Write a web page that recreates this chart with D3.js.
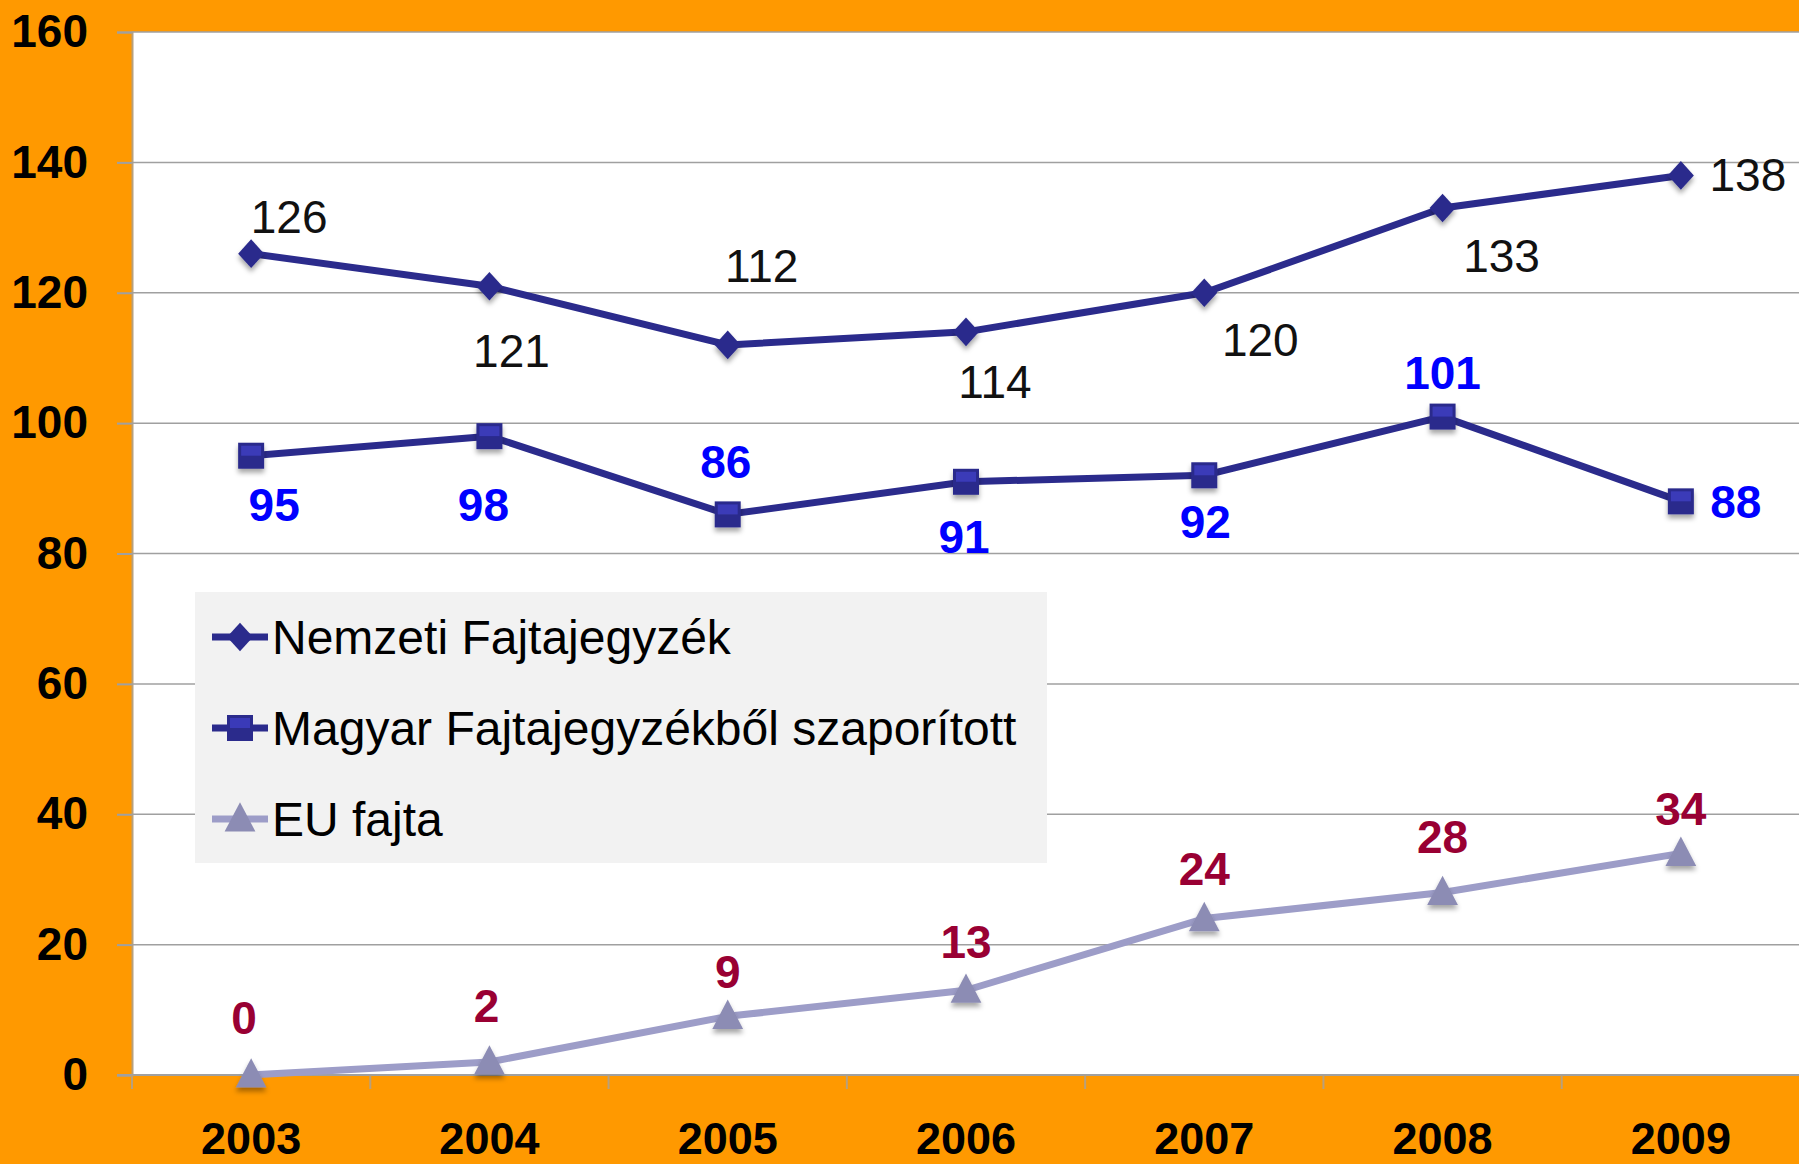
<!DOCTYPE html>
<html>
<head>
<meta charset="utf-8">
<script src="https://cdn.jsdelivr.net/npm/d3@7"></script>
<style>
  html, body { margin: 0; padding: 0; background: #ff9900; }
  svg { display: block; font-family: "Liberation Sans", Arial, sans-serif; }
</style>
</head>
<body>
<svg class="chart"></svg>
<script>
// data
var years = ["2003", "2004", "2005", "2006", "2007", "2008", "2009"];
var nemzeti = [126, 121, 112, 114, 120, 133, 138];
var magyar = [95, 98, 86, 91, 92, 101, 88];
var euFajta = [0, 2, 9, 13, 24, 28, 34];
var yTicks = [0, 20, 40, 60, 80, 100, 120, 140, 160];
var seriesNames = ["Nemzeti Fajtajegyzék", "Magyar Fajtajegyzékből szaporított", "EU fajta"];

// label placement (pixel offsets from the point)
var offNemzeti = [[38, -37], [22, 65], [34, -79], [29, 50], [56, 47], [59, 48], [67, 0]];
var offMagyar = [[23, 49], [-6, 69], [-2, -52], [-2, 55], [1, 47], [0, -44], [55, 1]];
var offEu = [[-7, -57], [-3, -56], [0, -44], [0, -48], [0, -50], [0, -55], [0, -44]];

var width = 1799, height = 1164;
var margin = {top: 32, left: 132, right: 0, bottom: 89};

var svg = d3.select(".chart")
    .attr("width", width)
    .attr("height", height);

svg.append("rect").attr("width", width).attr("height", height).attr("fill", "#ff9900");

var defs = svg.append("defs");
var f = defs.append("filter").attr("id", "shadow").attr("x", "-50%").attr("y", "-50%").attr("width", "200%").attr("height", "200%");
f.append("feDropShadow").attr("dx", 0).attr("dy", 4).attr("stdDeviation", 2.5)
    .attr("flood-color", "#000").attr("flood-opacity", 0.35);

var x = d3.scaleBand().domain(years).range([margin.left, width + 1]);
var y = d3.scaleLinear().domain([0, 160]).range([height - margin.bottom, margin.top]);

// plot area
svg.append("rect")
    .attr("x", margin.left).attr("y", y(160))
    .attr("width", width - margin.left).attr("height", y(0) - y(160))
    .attr("fill", "#ffffff");

// gridlines + y axis
var yAxis = d3.axisLeft(y).tickValues(yTicks).tickSize(15).tickPadding(29);
var gy = svg.append("g").attr("transform", "translate(" + margin.left + ",0)").call(yAxis);
gy.select(".domain").attr("stroke", "#b8a07c").attr("stroke-width", 2);
gy.selectAll(".tick line").attr("stroke", "#a0a0a0").attr("stroke-width", 2);
gy.selectAll(".tick text")
    .attr("font-size", 46).attr("font-weight", "bold").attr("fill", "#000")
    .attr("font-family", "'Liberation Sans', Arial, sans-serif");

svg.append("g").selectAll("line").data(yTicks.filter(function(d) { return d > 0; })).enter()
    .append("line")
    .attr("x1", margin.left).attr("x2", width)
    .attr("y1", function(d) { return y(d); }).attr("y2", function(d) { return y(d); })
    .attr("stroke", "#a0a0a0").attr("stroke-width", 1.5);

// x axis
var gx = svg.append("g").attr("transform", "translate(0," + y(0) + ")");
gx.append("line").attr("x1", margin.left - 15).attr("x2", width).attr("y1", 0).attr("y2", 0)
    .attr("stroke", "#a0a0a0").attr("stroke-width", 2);
gx.selectAll(".xt").data(years).enter().append("line")
    .attr("x1", function(d) { return x(d); }).attr("x2", function(d) { return x(d); })
    .attr("y1", 0).attr("y2", 14)
    .attr("stroke", "#b8a07c").attr("stroke-width", 2);
gx.selectAll(".xl").data(years).enter().append("text")
    .attr("x", function(d) { return x(d) + x.bandwidth() / 2; })
    .attr("y", 79)
    .attr("text-anchor", "middle")
    .attr("font-size", 45).attr("font-weight", "bold").attr("fill", "#000")
    .text(function(d) { return d; });

var cx = function(i) { return x(years[i]) + x.bandwidth() / 2; };

// marker shapes
function diamond(g, s) {
    g.append("path").attr("d", "M0," + (-s * 0.55) + "L" + (s * 0.5) + ",0L0," + (s * 0.55) + "L" + (-s * 0.5) + ",0Z")
        .attr("fill", "#2b2b8c");
}
function square(g, s) {
    g.append("rect").attr("x", -s / 2).attr("y", -s / 2).attr("width", s).attr("height", s).attr("fill", "#2b2b8c");
    g.append("rect").attr("x", -s / 2 + 3).attr("y", -s / 2 + 3).attr("width", s - 6).attr("height", s / 2 - 3).attr("fill", "#3a3ab8");
}
function triangle(g, s) {
    g.append("path").attr("d", "M0," + (-s * 0.6) + "L" + (s * 0.55) + "," + (s * 0.45) + "L" + (-s * 0.55) + "," + (s * 0.45) + "Z")
        .attr("fill", "#8c8cb4");
}

var series = [
    {values: nemzeti, color: "#2b2b8c", marker: diamond, size: 26, label: "#111", weight: "normal", off: offNemzeti},
    {values: magyar, color: "#2b2b8c", marker: square, size: 26, label: "#0000ff", weight: "bold", off: offMagyar},
    {values: euFajta, color: "#9d9dc8", marker: triangle, size: 28, label: "#990033", weight: "bold", off: offEu}
];

var line = d3.line().x(function(d, i) { return cx(i); }).y(function(d) { return y(d); });

series.forEach(function(s) {
    var g = svg.append("g");
    g.append("path").datum(s.values)
        .attr("d", line)
        .attr("fill", "none")
        .attr("stroke", s.color)
        .attr("stroke-width", 7)
        .attr("stroke-linejoin", "round");
    s.values.forEach(function(v, i) {
        var m = g.append("g").attr("transform", "translate(" + cx(i) + "," + y(v) + ")")
            .attr("filter", "url(#shadow)");
        s.marker(m, s.size);
    });
    g.selectAll("text").data(s.values).enter().append("text")
        .attr("x", function(d, i) { return cx(i) + s.off[i][0]; })
        .attr("y", function(d, i) { return y(d) + s.off[i][1]; })
        .attr("text-anchor", "middle")
        .attr("dominant-baseline", "central")
        .attr("font-size", 46)
        .attr("font-weight", s.weight)
        .attr("fill", s.label)
        .text(function(d) { return d; });
});

// legend
var legend = svg.append("g");
legend.append("rect").attr("x", 195).attr("y", 592).attr("width", 852).attr("height", 271).attr("fill", "#f2f2f2");
series.forEach(function(s, i) {
    var ly = 637 + i * 91;
    var item = legend.append("g").attr("transform", "translate(0," + ly + ")");
    item.append("line").attr("x1", 212).attr("x2", 268).attr("y1", 0).attr("y2", 0)
        .attr("stroke", s.color).attr("stroke-width", 7);
    var m = item.append("g").attr("transform", "translate(240,0)");
    s.marker(m, s.size);
    item.append("text").attr("x", 272).attr("y", 0)
        .attr("dominant-baseline", "central")
        .attr("font-size", 48).attr("fill", "#000")
        .text(seriesNames[i]);
});
</script>
</body>
</html>
